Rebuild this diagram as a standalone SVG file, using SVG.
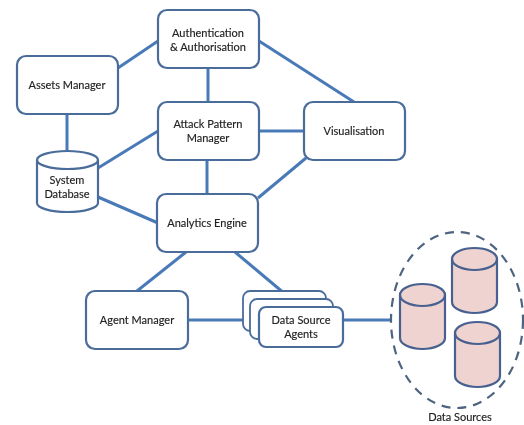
<svg xmlns="http://www.w3.org/2000/svg" width="524" height="425" viewBox="0 0 524 425">
<defs>
<filter id="soft" x="-5%" y="-5%" width="110%" height="110%"><feGaussianBlur stdDeviation="0.45"/></filter>
<path id="cylLg" d="M0 9 A30.5 9 0 0 1 61 9 V52 A30.5 9 0 0 1 0 52 Z"/>
<path id="cylSm" d="M0 11 A22.5 11 0 0 1 45 11 V54 A22.5 11 0 0 1 0 54 Z"/>
</defs>
<style>
.box{fill:#fff;stroke:#4a6c9b;stroke-width:2.2}
.back{fill:#fff;stroke:#4a6c9b;stroke-width:1.8}
.conn{stroke:#4a7ab8;stroke-width:3;fill:none;stroke-linecap:butt}
.cyl{fill:#fff;stroke:#4a6c9b;stroke-width:2.2}
.src{fill:#efd3d0;stroke:#46608f;stroke-width:2.2}
.cap{fill:none;stroke:#4a6c9b;stroke-width:2.2}
.capsrc{fill:none;stroke:#46608f;stroke-width:2.2}
.dash{fill:none;stroke:#4d6480;stroke-width:2.2;stroke-dasharray:9 7}
text{font-family:"Lato","Liberation Sans",sans-serif;font-size:11px;fill:#222;stroke:#222;stroke-width:0.15;text-anchor:middle}
</style>
<rect width="524" height="425" fill="#fff"/>
<g filter="url(#soft)">
<g id="connectors">
<line class="conn" x1="118" y1="68" x2="158" y2="41"/>
<line class="conn" x1="67" y1="114" x2="67" y2="152"/>
<line class="conn" x1="208" y1="68" x2="208" y2="102"/>
<line class="conn" x1="259" y1="41" x2="354" y2="102"/>
<line class="conn" x1="259" y1="131" x2="304" y2="131"/>
<line class="conn" x1="98" y1="168" x2="158" y2="131"/>
<line class="conn" x1="207" y1="160" x2="207" y2="194"/>
<line class="conn" x1="258" y1="198" x2="306" y2="158"/>
<line class="conn" x1="98" y1="197" x2="158" y2="223"/>
<line class="conn" x1="186" y1="252" x2="137" y2="291"/>
<line class="conn" x1="235" y1="252" x2="291" y2="299"/>
<line class="conn" x1="188" y1="320" x2="259" y2="320"/>
<line class="conn" x1="343" y1="320" x2="391" y2="320"/>
</g>
<g id="auth"><rect class="box" x="158" y="10" width="101" height="58" rx="9"/><text x="208" y="37">Authentication</text><text x="208" y="51">&amp; Authorisation</text></g>
<g id="assets"><rect class="box" x="17" y="56" width="101" height="58" rx="9"/><text x="67" y="89">Assets Manager</text></g>
<g id="attack"><rect class="box" x="158" y="102" width="101" height="58" rx="9"/><text x="208" y="128">Attack Pattern</text><text x="208" y="142">Manager</text></g>
<g id="visual"><rect class="box" x="304" y="102" width="101" height="58" rx="9"/><text x="354" y="135">Visualisation</text></g>
<g id="analytics"><rect class="box" x="157" y="194" width="101" height="58" rx="9"/><text x="207" y="227">Analytics Engine</text></g>
<g id="agent"><rect class="box" x="86" y="291" width="102" height="58" rx="9"/><text x="137" y="324">Agent Manager</text></g>
<g id="agents">
<rect class="back" x="243" y="291" width="83" height="40" rx="7"/>
<rect class="back" x="250" y="299" width="83" height="40" rx="7"/>
<rect class="box" x="259" y="307" width="84" height="40" rx="7"/>
<text x="301" y="324">Data Source</text><text x="301" y="338">Agents</text>
</g>
<g id="sysdb"><use href="#cylLg" x="37" y="151" class="cyl"/><path class="cap" d="M37 160 A30.5 9 0 0 0 98 160"/><text x="67" y="184">System</text><text x="67" y="198">Database</text></g>
<g id="datasources">
<ellipse class="dash" cx="457" cy="320" rx="66" ry="88"/>
<g id="src1"><use href="#cylSm" x="400" y="284" class="src"/><path class="capsrc" d="M400 295 A22.5 11 0 0 0 445 295"/></g>
<g id="src2"><use href="#cylSm" x="452" y="248" class="src"/><path class="capsrc" d="M452 259 A22.5 11 0 0 0 497 259"/></g>
<g id="src3"><use href="#cylSm" x="455" y="322" class="src"/><path class="capsrc" d="M455 333 A22.5 11 0 0 0 500 333"/></g>
<text x="460" y="421">Data Sources</text>
</g>
</g>
</svg>
